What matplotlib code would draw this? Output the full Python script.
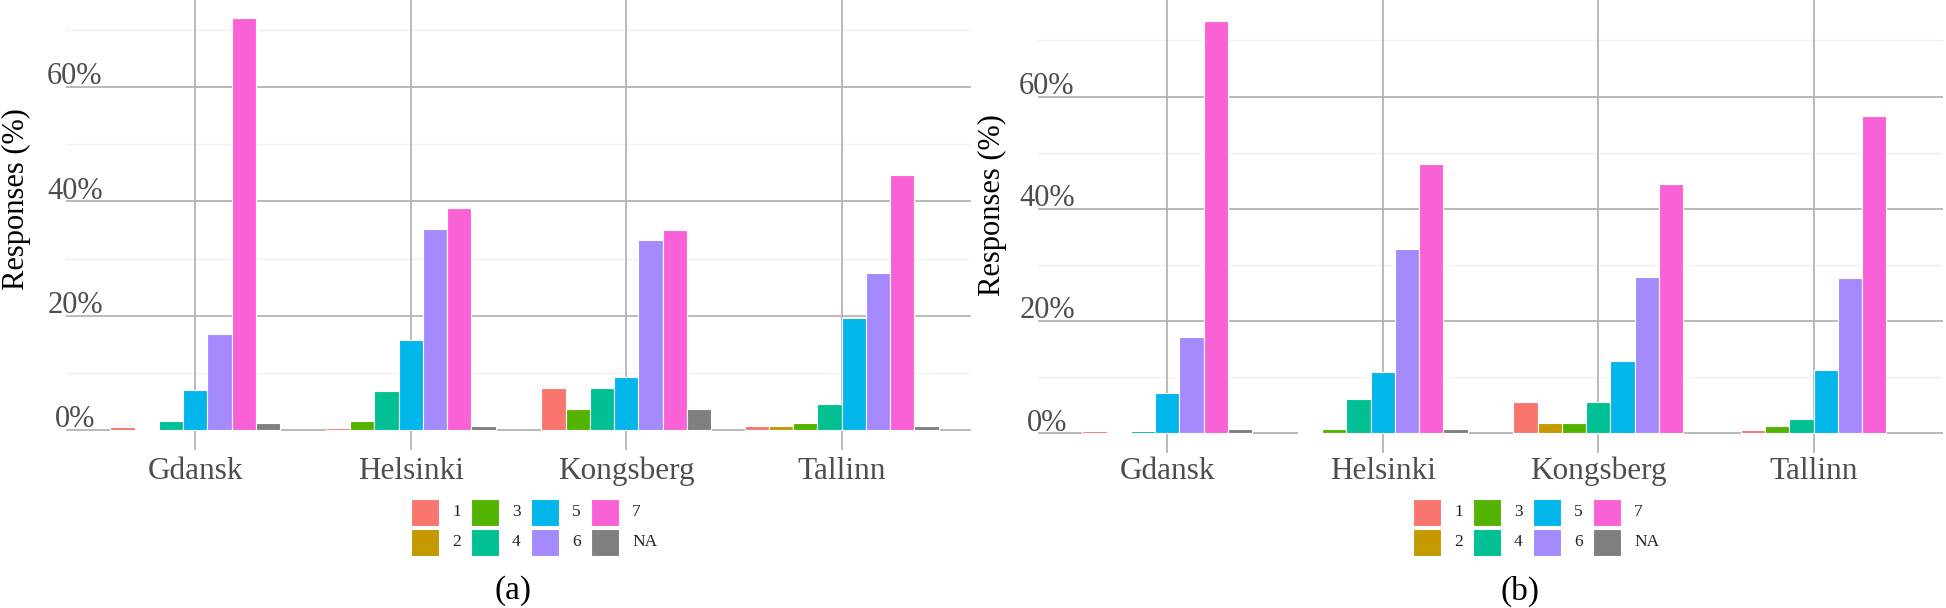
import numpy as np
import matplotlib
matplotlib.use('Agg')
import matplotlib.pyplot as plt
from matplotlib.patches import Rectangle
from matplotlib.transforms import blended_transform_factory

plt.rcParams['font.family'] = ['Liberation Serif', 'DejaVu Serif']

cities = ['Gdansk', 'Helsinki', 'Kongsberg', 'Tallinn']
levels = ['1', '2', '3', '4', '5', '6', '7', 'NA']
colors = ['#F8766D', '#C49A00', '#53B400', '#00C094', '#00B6EB', '#A58AFF', '#FB61D7', '#7F7F7F']
nan = np.nan

# panel (a): percent of responses per level, nan = level absent
a_gdansk = [0.5, nan, 0.2, 1.5, 7.0, 16.8, 72.1, 1.3]
a_helsinki = [0.4, nan, 1.6, 6.9, 15.7, 35.2, 38.8, 0.75]
a_kongsberg = [7.35, nan, 3.7, 7.35, 9.2, 33.2, 35.0, 3.7]
a_tallinn = [0.7, 0.7, 1.3, 4.55, 19.65, 27.5, 44.6, 0.7]

# panel (b)
b_gdansk = [0.4, 0.2, nan, 0.4, 7.2, 17.1, 73.4, 0.7]
b_helsinki = [0.3, nan, 0.7, 6.05, 10.9, 32.85, 47.9, 0.7]
b_kongsberg = [5.5, 1.8, 1.8, 5.5, 12.9, 27.8, 44.4, nan]
b_tallinn = [0.6, nan, 1.3, 2.6, 11.2, 27.6, 56.55, nan]

W, H = 1946, 608
fig = plt.figure(figsize=(W / 100, H / 100), dpi=100)


def px_box(left, right, top, bottom):
    return [left / W, (H - bottom) / H, (right - left) / W, (bottom - top) / H]


def draw_panel(box, data, ylim, ytitle_xy, leg_left, caption_x, caption):
    ax = fig.add_axes(box)
    ax.set_xlim(0.4, 4.6)
    ax.set_ylim(*ylim)
    for s in ax.spines.values():
        s.set_visible(False)
    ax.set_xticks([])
    ax.set_yticks([])
    # grid
    for v in [10, 30, 50, 70]:
        ax.axhline(v, color='#F1F1F1', lw=1.0, zorder=0)
    for v in [0, 20, 40, 60]:
        ax.axhline(v, color='#B4B4B4', lw=1.3, zorder=0)
    for i in range(len(cities)):
        ax.axvline(i + 1, color='#B4B4B4', lw=1.3, zorder=0)

    w = 0.9 / len(levels)
    for i, vals in enumerate(data):
        present = [j for j, v in enumerate(vals) if not np.isnan(v)]
        k = len(present)
        for n, j in enumerate(present):
            x = i + 1 + (n - (k - 1) / 2) * w
            ax.bar(x, vals[j], width=w, color=colors[j], edgecolor='white',
                   linewidth=0.8, zorder=2)

    ytr = blended_transform_factory(ax.transAxes, ax.transData)
    for v in [0, 20, 40, 60]:
        ax.text(9 / 905, v + 0.5, f'{v}%', transform=ytr, ha='center', va='baseline',
                fontsize=22, color='#4D4D4D', zorder=3)

    xtr = blended_transform_factory(ax.transData, fig.transFigure)
    for i, c in enumerate(cities):
        ax.text(i + 1, (H - 479) / H, c, transform=xtr, ha='center', va='baseline',
                fontsize=22.5, color='#4D4D4D')

    fig.text(ytitle_xy[0] / W, (H - ytitle_xy[1]) / H, 'Responses (%)', rotation=90,
             ha='center', va='center', fontsize=22, color='black')

    # legend, column-major 4 x 2
    for j, lab in enumerate(levels):
        col, row = j // 2, j % 2
        x0 = leg_left + col * 60
        y0 = 499 + row * 30
        fig.patches.append(Rectangle((x0 / W, (H - y0 - 27) / H), 28 / W, 27 / H,
                                     transform=fig.transFigure, facecolor=colors[j],
                                     edgecolor='white', lw=0.8))
        fig.text((x0 + 41) / W, (H - y0 - 13.5) / H, lab, ha='left', va='center',
                 fontsize=12.5, color='#222222')

    fig.text(caption_x / W, (H - 591) / H, caption, ha='center', va='center',
             fontsize=24, color='black')
    return ax


draw_panel(px_box(66, 971, 0, 450),
           [a_gdansk, a_helsinki, a_kongsberg, a_tallinn],
           (-3.5, 75.25), (16, 199), 411, 513, '(a)')
draw_panel(px_box(1038, 1943, 0, 453),
           [b_gdansk, b_helsinki, b_kongsberg, b_tallinn],
           (-3.5, 77.2), (992, 205), 1413, 1520, '(b)')

fig.savefig('out.png', dpi=100)
